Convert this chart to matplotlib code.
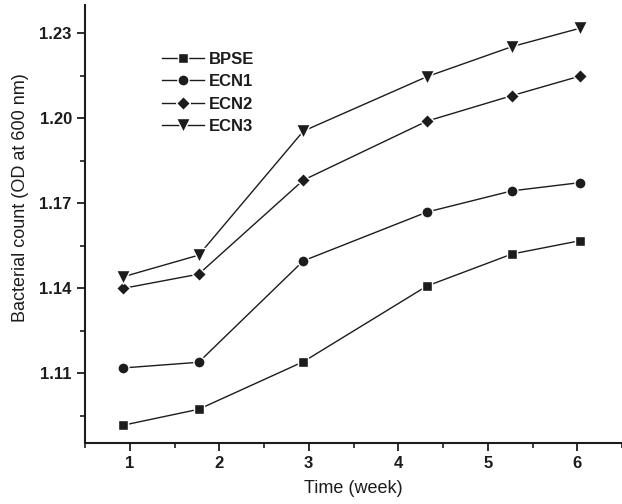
import matplotlib
matplotlib.use("Agg")
import matplotlib.pyplot as plt
from matplotlib.ticker import MultipleLocator

# donnees
semaines = [0.93, 1.77, 2.94, 4.32, 5.27, 6.03]
bpse = [1.0916, 1.0972, 1.1140, 1.1407, 1.1520, 1.1567]
ecn1 = [1.1118, 1.1138, 1.1496, 1.1668, 1.1743, 1.1772]
ecn2 = [1.1399, 1.1449, 1.1781, 1.1989, 1.2079, 1.2148]
ecn3 = [1.1440, 1.1516, 1.1954, 1.2146, 1.2252, 1.2317]

series = [("BPSE", bpse, "s"), ("ECN1", ecn1, "o"),
          ("ECN2", ecn2, "D"), ("ECN3", ecn3, "v")]
tailles = {"s": 7.5, "o": 8, "D": 7.5, "v": 9.5}

plt.rcParams['font.family'] = ['Liberation Sans', 'DejaVu Sans']

fig = plt.figure(figsize=(6.22, 5.04), dpi=100)
ax = fig.add_axes([85/622, 61/504, 1 - 85/622, 438/504])

couleur = "#1c1c1c"
for nom, vals, m in series:
    ax.plot(semaines, vals, color=couleur, lw=1.0, marker=m, ms=tailles[m],
            mec='white', mew=1.0, label=nom)

ax.set_xlim(0.5, 6.5)
ax.set_ylim(1.0853, 1.2399)
ax.xaxis.set_major_locator(MultipleLocator(1))
ax.xaxis.set_minor_locator(MultipleLocator(0.5))
ax.yaxis.set_major_locator(MultipleLocator(0.03))
ax.yaxis.set_minor_locator(MultipleLocator(0.015))
ax.yaxis.set_major_formatter(plt.FormatStrFormatter('%.2f'))

for s in ['top', 'right']:
    ax.spines[s].set_visible(False)
for s in ['left', 'bottom']:
    ax.spines[s].set_linewidth(1.5)
    ax.spines[s].set_color(couleur)

ax.tick_params(which='major', direction='out', length=6, width=1.3, labelsize=12, colors=couleur)
ax.tick_params(which='minor', direction='out', length=3.5, width=1.2, colors=couleur)
for lab in ax.get_xticklabels() + ax.get_yticklabels():
    lab.set_fontweight('bold')

ax.set_xlabel("Time (week)", fontsize=13, color=couleur, labelpad=6)
ax.set_ylabel("Bacterial count (OD at 600 nm)", fontsize=13, color=couleur)
ax.yaxis.set_label_coords(-0.105, 0.56)

leg = ax.legend(loc='upper left', bbox_to_anchor=(0.116, 0.928), frameon=False,
                prop={'weight': 'bold', 'size': 12}, handlelength=2.5,
                labelspacing=0.45, handletextpad=0.3, markerscale=1.0)
for t in leg.get_texts():
    t.set_color(couleur)

fig.savefig("out.png", dpi=100)
